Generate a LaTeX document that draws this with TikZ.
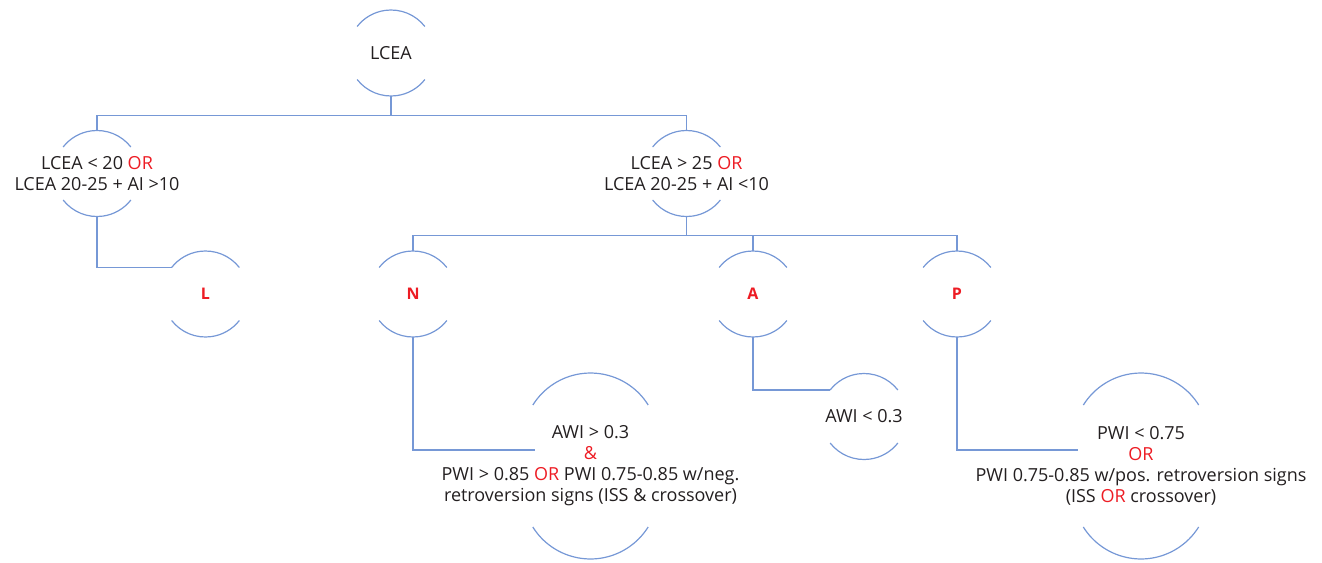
\documentclass[tikz,border=0pt]{standalone}
\usepackage{fontspec}
\setmainfont{Open Sans}
\definecolor{lineblue}{RGB}{118,152,214}
\definecolor{accred}{RGB}{237,28,36}
\definecolor{txtblack}{RGB}{35,31,32}
\newcommand{\rd}[1]{\textcolor{accred}{#1}}
\newcommand{\smallarcs}[1]{%
  \draw[ln] ([shift={(38:43pt)}]#1.center) arc[start angle=38,end angle=142,radius=43pt];
  \draw[ln] ([shift={(218:43pt)}]#1.center) arc[start angle=218,end angle=322,radius=43pt];}
\newcommand{\bigarcs}[1]{%
  \draw[ln] ([shift={(57.7pt,61pt)}]#1.center) arc[start angle=32,end angle=148,radius=68pt];
  \draw[ln] ([shift={(-57.7pt,-61pt)}]#1.center) arc[start angle=212,end angle=328,radius=68pt];}
\tikzset{
  ln/.style={draw=lineblue,line width=1.2pt},
  circ/.style={circle,draw=none,minimum size=86pt,inner sep=0pt},
  bigc/.style={circle,draw=none,minimum size=120pt,inner sep=0pt},
  txt/.style={text=txtblack,align=center,font=\fontsize{18}{21}\selectfont,inner sep=0pt},
  lbl/.style={text=accred,font=\fontsize{16}{19}\selectfont\bfseries,inner sep=0pt}
}
\begin{document}
\begin{tikzpicture}[x=1pt,y=-1pt]
\useasboundingbox (0,0) rectangle (1322,562);
% node centres
\node[circ] (root) at (391,53) {};
\node[circ] (c1) at (97,173.5) {};
\node[circ] (c2) at (686.5,173.5) {};
\node[circ] (L) at (205.5,294) {};
\node[circ] (N) at (413,294) {};
\node[circ] (A) at (753,294) {};
\node[circ] (P) at (957,294) {};
\node[circ] (awi2) at (864,416.5) {};
\node[bigc] (nc) at (590.5,466) {};
\node[bigc] (pc) at (1141,466) {};
% arcs
\smallarcs{root}
\smallarcs{c1}
\smallarcs{c2}
\smallarcs{L}
\smallarcs{N}
\smallarcs{A}
\smallarcs{P}
\smallarcs{awi2}
\bigarcs{nc}
\bigarcs{pc}
% texts
\node[txt] (roott) at (root.center) {LCEA};
\node[txt] (c1t) at (c1.center) {LCEA < 20 \rd{OR}\\LCEA 20-25 + AI >10};
\node[txt] (c2t) at (c2.center) {LCEA > 25 \rd{OR}\\LCEA 20-25 + AI <10};
\node[lbl] (Lt) at (L.center) {L};
\node[lbl] (Nt) at (N.center) {N};
\node[lbl] (At) at (A.center) {A};
\node[lbl] (Pt) at (P.center) {P};
\node[txt] (awi2t) at (awi2.center) {AWI < 0.3};
\node[txt] (nct) at (nc.center) {AWI > 0.3\\\rd{\&}\\PWI > 0.85 \rd{OR} PWI 0.75-0.85 w/neg.\\retroversion signs (ISS \& crossover)};
\node[txt] (pct) at (pc.center) {PWI < 0.75\\\rd{OR}\\PWI 0.75-0.85 w/pos. retroversion signs\\(ISS \rd{OR} crossover)};
% connectors
\draw[ln] (root.south) -- ++(0,19) -| (c1.north);
\draw[ln] (root.south) -- ++(0,19) -| (c2.north);
\draw[ln] (c1.south) |- ([shift={(142:43pt)}]L.center);
\draw[ln] (c2.south) -- ++(0,19) -| (N.north);
\draw[ln] (c2.south) -- ++(0,19) -| (A.north);
\draw[ln] (c2.south) -- ++(0,19) -| (P.north);
\draw[ln] (N.south) |- ([shift={(-55.5pt,16pt)}]nc.center);
\draw[ln] (A.south) |- ([shift={(142:43pt)}]awi2.center);
\draw[ln] (P.south) |- ([shift={(-63pt,16pt)}]pc.center);
\end{tikzpicture}
\end{document}
